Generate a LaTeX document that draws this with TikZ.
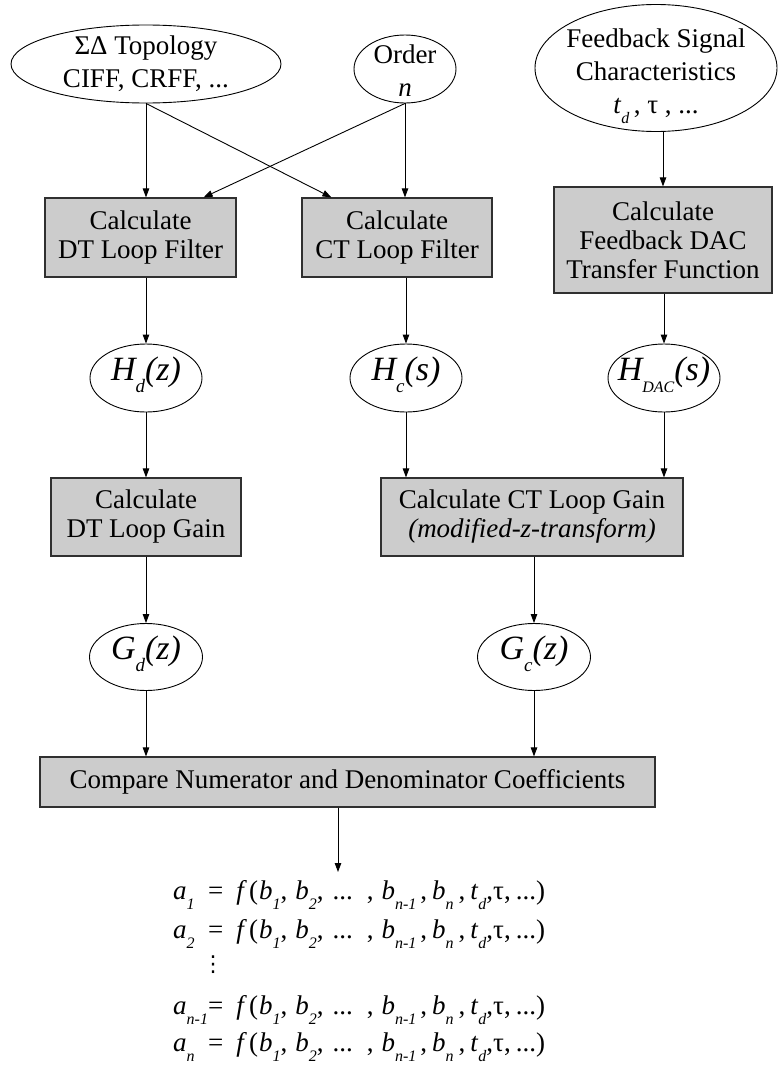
\documentclass[tikz,border=0pt]{standalone}
\usepackage{fontspec}
\setmainfont{Liberation Serif}
\newfontfamily\symfam{DejaVu Sans}
\usetikzlibrary{shapes.geometric,arrows.meta,calc}
\definecolor{boxgray}{HTML}{CCCCCC}
\definecolor{edgegray}{HTML}{303030}

% lowered subscripts, small (text) and large (transfer-function symbols)
\newcommand\lsb[1]{\raisebox{-10pt}{\fontsize{16}{16}\selectfont\itshape #1}}
\newcommand\bsb[1]{\raisebox{-12pt}{\fontsize{19}{19}\selectfont\itshape #1}}
% one coefficient equation
\newcommand\eqrow[1]{\rlap{\textit{a}\lsb{#1}}\hspace{35pt}=\hspace{13pt}\textit{f}\hspace{2pt}(\hspace{1pt}\textit{b}\lsb{1},\hspace{8pt}\textit{b}\lsb{2},\hspace{9pt}...\hspace{14pt},\hspace{8pt}\textit{b}\lsb{n-1}\hspace{4pt},\hspace{5pt}\textit{b}\lsb{n}\hspace{5pt},\hspace{5pt}\textit{t}\lsb{d},τ,\hspace{5pt}...)}

\begin{document}
\begin{tikzpicture}[x=1pt,y=-1pt,
  ell/.style={draw, ellipse, inner sep=0pt, line width=0.9pt},
  lbl/.style={align=center, font=\fontsize{27}{33}\selectfont, inner sep=0pt},
  hlbl/.style={font=\fontsize{34}{34}\selectfont\itshape, inner sep=0pt},
  gbox/.style={draw=edgegray, fill=boxgray, rectangle, line width=1.2pt, align=center,
               inner sep=0pt, font=\fontsize{27}{29}\selectfont},
  arr/.style={-{Triangle[length=9pt,width=6.5pt]}, line width=0.9pt},
  eqn/.style={inner sep=0pt, font=\fontsize{27}{30}\selectfont}]
\useasboundingbox (0,0) rectangle (777,1068);

% inputs
\node[ell, minimum width=270pt, minimum height=78pt,
      label={[lbl]center:{ΣΔ Topology\\CIFF, CRFF, ...}}] (topo) at (146,64) {};
\node[ell, minimum width=102pt, minimum height=68pt,
      label={[lbl,yshift=-2pt]center:{Order\\\textit{n}}}] (order) at (405,69) {};
\node[ell, minimum width=242pt, minimum height=127pt,
      label={[lbl,yshift=-8pt]center:{Feedback Signal\\Characteristics\\\textit{t}\lsb{d}\,, τ , ...}}] (fb) at (656,68) {};

% first calculation row
\node[gbox, minimum width=191pt, minimum height=79pt] (dtf) at (140.5,237.5) {Calculate\\DT Loop Filter};
\node[gbox, minimum width=190pt, minimum height=79pt] (ctf) at (397,237.5) {Calculate\\CT Loop Filter};
\node[gbox, minimum width=218pt, minimum height=106pt] (fbb) at (663,240) {Calculate\\Feedback DAC\\Transfer Function};

% transfer functions
\node[ell, minimum width=112pt, minimum height=68pt,
      label={[hlbl,yshift=3pt]center:{H\bsb{d}(z)}}] (hd) at (146,378) {};
\node[ell, minimum width=112pt, minimum height=68pt,
      label={[hlbl,yshift=3pt]center:{H\bsb{c}(s)}}] (hc) at (406,378) {};
\node[ell, minimum width=112pt, minimum height=68pt,
      label={[hlbl,yshift=3pt]center:{H\bsb{\fontsize{16}{16}\selectfont DAC}(s)}}] (hdac) at (664,378) {};

% loop gains
\node[gbox, minimum width=190pt, minimum height=78pt] (dtg) at (146,517) {Calculate\\DT Loop Gain};
\node[gbox, minimum width=302pt, minimum height=78pt] (ctg) at (532,517) {Calculate CT Loop Gain\\\textit{(modified-z-transform)}};

\node[ell, minimum width=113pt, minimum height=67pt,
      label={[hlbl,yshift=3pt]center:{G\bsb{d}(z)}}] (gd) at (146,657) {};
\node[ell, minimum width=113pt, minimum height=67pt,
      label={[hlbl,yshift=3pt]center:{G\bsb{c}(z)}}] (gc) at (534,657) {};

% comparison
\node[gbox, minimum width=615pt, minimum height=50pt] (cmp) at (347.5,782) {Compare Numerator and Denominator Coefficients};

% resulting coefficient equations
\node[eqn, anchor=base west] (eq1) at (173,899) {\eqrow{1}};
\node[eqn, anchor=base west] (eq2) at (173,938) {\eqrow{2}};
\node[inner sep=0pt, font=\symfam\fontsize{22}{22}\selectfont] (eqd) at (213,965) {⋮};
\node[eqn, anchor=base west] (eq3) at (173,1014) {\eqrow{n-1}};
\node[eqn, anchor=base west] (eq4) at (173,1051) {\eqrow{n}};
\coordinate (eqin) at (338,872);

% connectors
\draw[arr] (topo.south) -- (topo.south |- dtf.north);
\draw[arr] (topo.south) -- ($(ctf.north west)+(30,0)$);
\draw[arr] (order.south) -- ($(dtf.north east)+(-33,0)$);
\draw[arr] (order.south) -- (order.south |- ctf.north);
\draw[arr] (fb.south -| fbb.north) -- (fbb.north);

\draw[arr] (hd.north |- dtf.south) -- (hd.north);
\draw[arr] (hc.north |- ctf.south) -- (hc.north);
\draw[arr] (hdac.north |- fbb.south) -- (hdac.north);

\draw[arr] (hd.south) -- (hd.south |- dtg.north);
\draw[arr] (hc.south) -- (hc.south |- ctg.north);
\draw[arr] (hdac.south) -- (hdac.south |- ctg.north);

\draw[arr] (gd.north |- dtg.south) -- (gd.north);
\draw[arr] (gc.north |- ctg.south) -- (gc.north);

\draw[arr] (gd.south) -- (gd.south |- cmp.north);
\draw[arr] (gc.south) -- (gc.south |- cmp.north);

\draw[arr] (cmp.south -| eqin) -- (eqin);
\end{tikzpicture}
\end{document}
